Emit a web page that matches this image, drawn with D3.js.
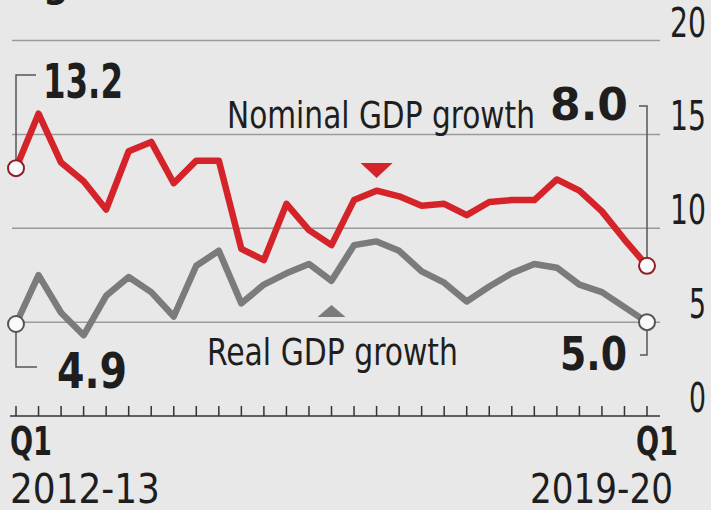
<!DOCTYPE html>
<html>
<head>
<meta charset="utf-8">
<script src="https://cdn.jsdelivr.net/npm/d3@7"></script>
<style>
  body { margin: 0; background: #e8e8e8; }
  svg { display: block; }
  text { font-family: "DejaVu Sans Condensed", "DejaVu Sans", sans-serif; fill: #1e1e1e; }
</style>
</head>
<body>
<div id="chart"></div>
<script>
// quarterly growth, Q1 2012-13 .. Q1 2019-20 (%)
const quarters = d3.range(29);
const nominal = [13.2, 16.1, 13.5, 12.5, 11.0, 14.1, 14.6, 12.4, 13.6, 13.6,
                 8.9, 8.3, 11.3, 9.9, 9.1, 11.5, 12.0, 11.7, 11.2, 11.3,
                 10.7, 11.4, 11.5, 11.5, 12.6, 12.0, 10.9, 9.4, 8.0];
const real = [4.9, 7.5, 5.5, 4.3, 6.4, 7.4, 6.6, 5.3, 8.0, 8.8,
              6.0, 7.0, 7.6, 8.1, 7.2, 9.1, 9.3, 8.8, 7.7, 7.1,
              6.1, 6.9, 7.6, 8.1, 7.9, 7.0, 6.6, 5.8, 5.0];
const yTicks = [0, 5, 10, 15, 20];
const startLabel = ["Q1", "2012-13"];
const endLabel = ["Q1", "2019-20"];
const nominalMarker = 16; // red triangle above this quarter
const realMarker = 14;    // grey triangle below this quarter

const width = 711;
const height = 510;

const red = "#d5232a";
const grey = "#7b7b7b";

let svg = d3.select("#chart")
    .append("svg")
    .attr("width", width)
    .attr("height", height);

svg.append("rect")
    .attr("width", width)
    .attr("height", height)
    .attr("fill", "#e8e8e8");

let x = d3.scaleLinear()
    .domain([0, 28])
    .range([16, 647]);

let y = d3.scaleLinear()
    .domain([0, 20])
    .range([416, 40.5]);

// the paper uses a condensed face: draw the text, then squeeze it to width w
function label(t, px, py, w, size, bold, anchor) {
    let el = svg.append("text")
        .style("font-size", size + "px")
        .style("font-weight", bold ? "bold" : "normal")
        .text(t);
    let sx = w / el.node().getComputedTextLength();
    let left = anchor === "end" ? px - w : px;
    el.attr("transform", `translate(${left},${py}) scale(${sx},1)`);
    return el;
}

// cut-off title at the very top
svg.append("text")
    .attr("x", 43)
    .attr("y", -4)
    .style("font-size", "40px")
    .style("font-weight", "bold")
    .text("g");

// grid
svg.append("g")
    .selectAll("line")
    .data(yTicks.filter(d => d > 0))
    .join("line")
    .attr("x1", 12)
    .attr("x2", 660)
    .attr("y1", d => y(d))
    .attr("y2", d => y(d))
    .attr("stroke", "#9a9a9a")
    .attr("stroke-width", 1.5);

// y labels on the right
yTicks.forEach(d => {
    label(String(d), 706, y(d) - 4, d >= 10 ? 36 : 17, 41, false, "end");
});

// x axis with a tick per quarter
let xAxis = svg.append("g")
    .attr("transform", `translate(0,${y(0)})`);

xAxis.append("line")
    .attr("x1", 10)
    .attr("x2", 660)
    .attr("stroke", "#333")
    .attr("stroke-width", 1.5);

xAxis.selectAll(".tick")
    .data(quarters)
    .join("line")
    .attr("class", "tick")
    .attr("x1", d => x(d))
    .attr("x2", d => x(d))
    .attr("y1", 0)
    .attr("y2", -10)
    .attr("stroke", "#333")
    .attr("stroke-width", 1.5);

label(startLabel[0], 10, 455, 42, 39, true);
label(startLabel[1], 10, 503, 150, 40, false);
label(endLabel[0], 678, 455, 42, 39, true, "end");
label(endLabel[1], 673, 503, 143, 40, false, "end");

// leader lines from the end points to the value labels
const last = quarters.length - 1;
let leaders = svg.append("g")
    .attr("fill", "none")
    .attr("stroke", "#555")
    .attr("stroke-width", 1.5);

leaders.append("path")
    .attr("d", `M${x(0)},${y(nominal[0])}V75H36`);
leaders.append("path")
    .attr("d", `M${x(0)},${y(real[0])}V367H37`);
leaders.append("path")
    .attr("d", `M${x(last)},${y(nominal[last])}V106H639`);
leaders.append("path")
    .attr("d", `M${x(last)},${y(real[last])}V355H640`);

let line = d3.line()
    .x((d, i) => x(i))
    .y(d => y(d));

svg.append("path")
    .datum(real)
    .attr("fill", "none")
    .attr("stroke", grey)
    .attr("stroke-width", 6.5)
    .attr("stroke-linejoin", "round")
    .attr("d", line);

svg.append("path")
    .datum(nominal)
    .attr("fill", "none")
    .attr("stroke", red)
    .attr("stroke-width", 6.5)
    .attr("stroke-linejoin", "round")
    .attr("d", line);

// open circles at the start and end of each series
[[nominal, "#8e1f24"], [real, "#555"]].forEach(([s, c]) => {
    svg.append("g")
        .selectAll("circle")
        .data([0, last])
        .join("circle")
        .attr("cx", d => x(d))
        .attr("cy", d => y(s[d]))
        .attr("r", 8)
        .attr("fill", "#fafafa")
        .attr("stroke", c)
        .attr("stroke-width", 2);
});

// triangle markers
let nx = x(nominalMarker);
svg.append("path")
    .attr("d", `M${nx - 16},163H${nx + 16}L${nx},178Z`)
    .attr("fill", red);

let rx = x(realMarker);
svg.append("path")
    .attr("d", `M${rx - 14},317H${rx + 14}L${rx},305Z`)
    .attr("fill", grey);

// value labels
label(nominal[0].toFixed(1), 43, 98, 80, 48, true);
label("Nominal GDP growth", 227, 128, 308, 38, false);
label(nominal[last].toFixed(1), 550, 120, 78, 45, true);
label(real[0].toFixed(1), 57, 388, 70, 50, true);
label("Real GDP growth", 207, 365, 251, 37, false);
label(real[last].toFixed(1), 560, 370, 67, 47, true);
</script>
</body>
</html>
